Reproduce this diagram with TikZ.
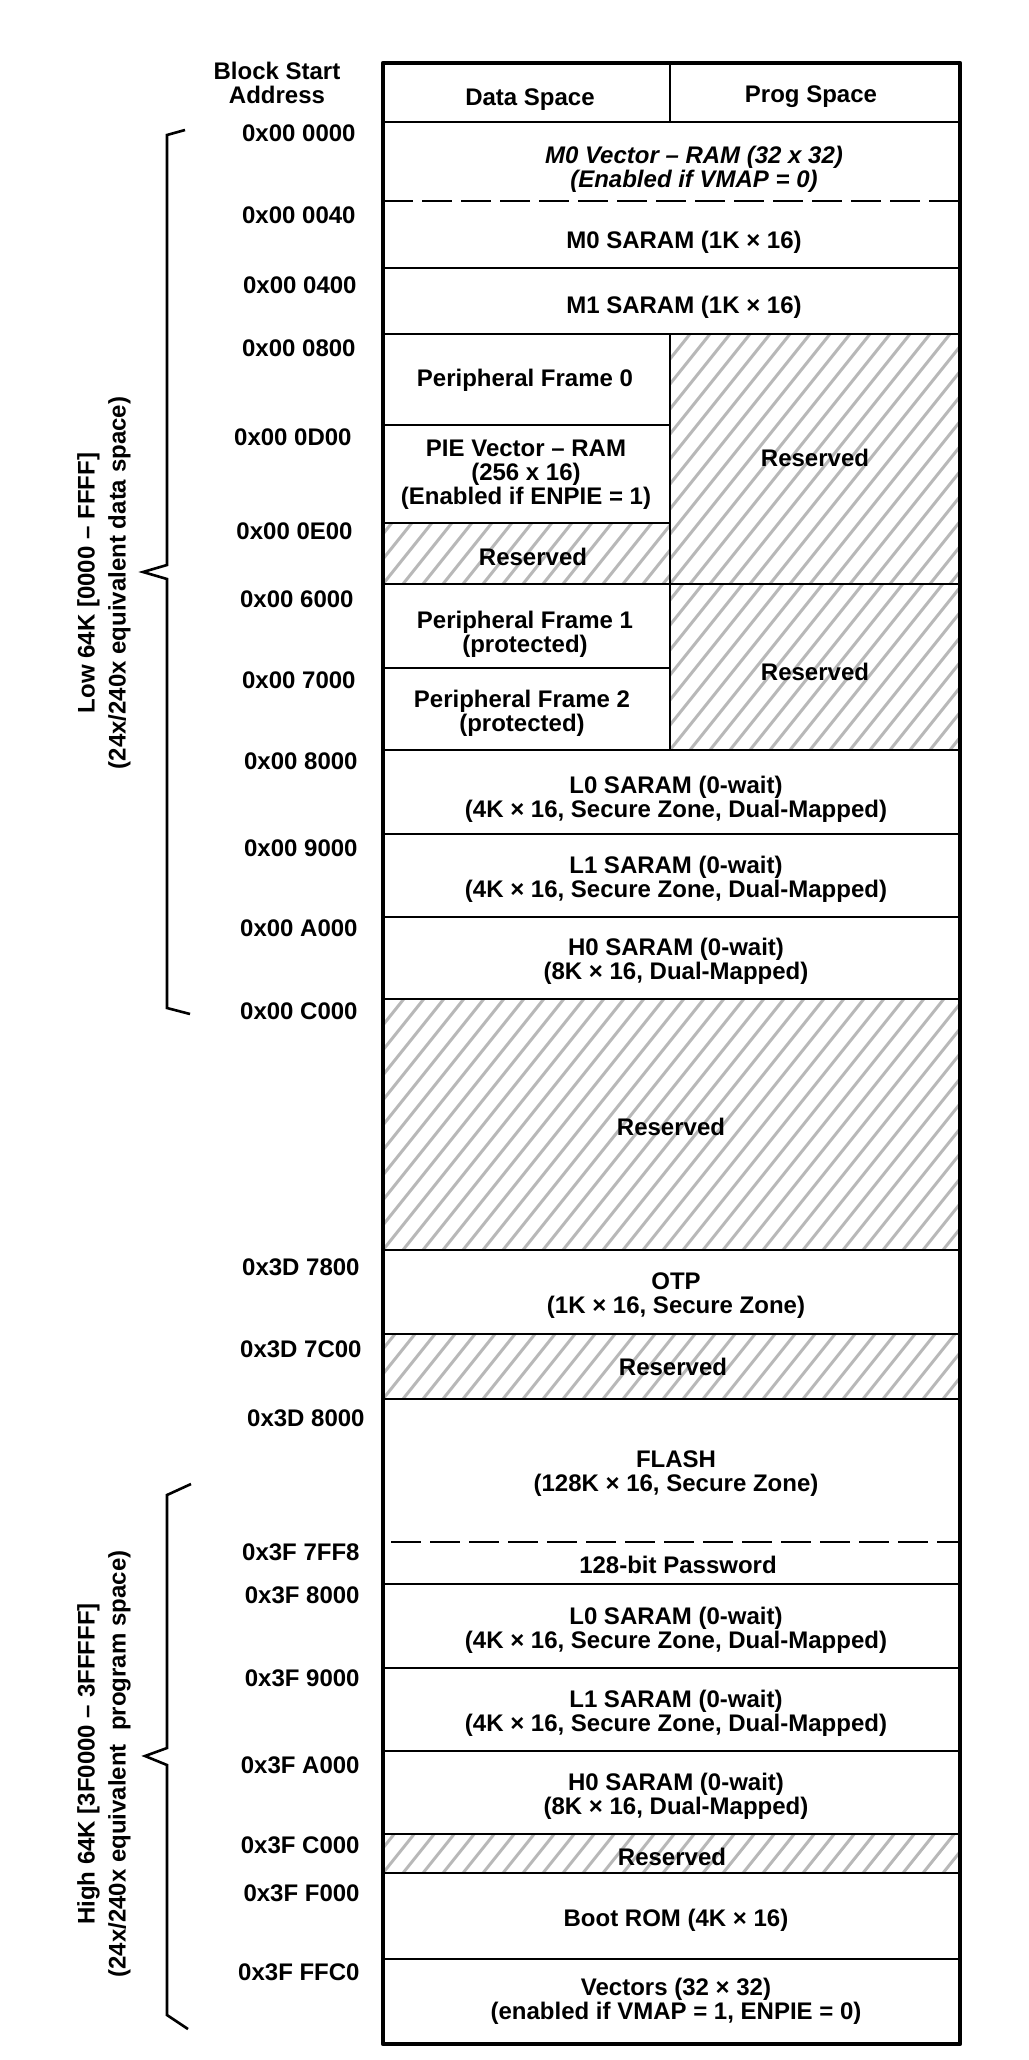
\documentclass[tikz,border=0pt]{standalone}
\usepackage{fontspec}
\setmainfont{Liberation Sans}

\begin{document}
\begin{tikzpicture}[
      x=0.5pt, y=-0.5pt,
      cell/.style={draw, line width=0.65pt},
      resv/.style={cell, path picture={
          \foreach \k in {-40,...,34}
            \draw[black!28, line width=1.5pt]
              ([xshift={\k*10pt}]path picture bounding box.south west) -- ++(240pt,300pt);}},
      frame/.style={draw, line width=2.2pt, line join=round},
      sepline/.style={line width=0.8pt, dash pattern=on 15pt off 4.5pt},
      lbl/.style={font=\fontsize{12}{12}\selectfont\bfseries, align=center},
      addr/.style={font=\fontsize{12}{12}\selectfont\bfseries, anchor=east, inner sep=0pt},
      brace/.style={line width=1.3pt},
      bracetxt/.style={font=\fontsize{12}{15.5}\selectfont\bfseries, align=center, rotate=90}
    ]
    \useasboundingbox (0,0) rectangle (1028,2060);

    % header
    \draw[cell] (383,63) rectangle (670,122);
    \draw[cell] (670,63) rectangle (960,122);
    \node[lbl] (blkhdr) at (277,83) {Block Start\\Address};
    \node[lbl] (datahdr) at (530,100) {Data Space};
    \node[lbl] (proghdr) at (811,97) {Prog Space};

    % low 64K
    \draw[cell] (383,122) rectangle (960,268);
    \draw[sepline] (383,201) -- (960,201);
    \node[lbl, font=\fontsize{12}{12}\selectfont\bfseries\itshape] (m0vec) at (694,169) {M0 Vector – RAM (32 x 32)\\(Enabled if VMAP = 0)};
    \node[lbl] (m0sa) at (684,242) {M0 SARAM (1K × 16)};
    \draw[cell] (383,268) rectangle (960,334);
    \node[lbl] (m1sa) at (684,307) {M1 SARAM (1K × 16)};
    \draw[cell] (383,334) rectangle (670,425);
    \node[lbl] (pf0) at (525,380) {Peripheral Frame 0};
    \draw[cell] (383,425) rectangle (670,523);
    \node[lbl] (pievec) at (526,475) {PIE Vector – RAM\\(256 x 16)\\(Enabled if ENPIE = 1)};
    \draw[resv] (383,523) rectangle (670,584);
    \node[lbl] (rsva) at (533,557) {Reserved};
    \draw[resv] (670,334) rectangle (960,584);
    \node[lbl] (rsvb) at (815,458) {Reserved};
    \draw[cell] (383,584) rectangle (670,668);
    \node[lbl] (pf1) at (525,634) {Peripheral Frame 1\\(protected)};
    \draw[cell] (383,668) rectangle (670,750);
    \node[lbl] (pf2) at (522,713) {Peripheral Frame 2\\(protected)};
    \draw[resv] (670,584) rectangle (960,750);
    \node[lbl] (rsvc) at (815,672) {Reserved};
    \draw[cell] (383,750) rectangle (960,834);
    \node[lbl] (l0lo) at (676,799) {L0 SARAM (0-wait)\\(4K × 16, Secure Zone, Dual-Mapped)};
    \draw[cell] (383,834) rectangle (960,917);
    \node[lbl] (l1lo) at (676,879) {L1 SARAM (0-wait)\\(4K × 16, Secure Zone, Dual-Mapped)};
    \draw[cell] (383,917) rectangle (960,999);
    \node[lbl] (h0lo) at (676,961) {H0 SARAM (0-wait)\\(8K × 16, Dual-Mapped)};

    % middle
    \draw[resv] (383,999) rectangle (960,1250);
    \node[lbl] (rsvd) at (671,1127) {Reserved};
    \draw[cell] (383,1250) rectangle (960,1334);
    \node[lbl] (otp) at (676,1296) {OTP\\(1K × 16, Secure Zone)};
    \draw[resv] (383,1334) rectangle (960,1399);
    \node[lbl] (rsve) at (673,1367) {Reserved};
    \draw[cell] (383,1399) rectangle (960,1584);
    \draw[sepline] (391,1542) -- (960,1542);
    \node[lbl] (flash) at (676,1474) {FLASH\\(128K × 16, Secure Zone)};
    \node[lbl] (pwd) at (678,1565) {128-bit Password};

    % high 64K
    \draw[cell] (383,1584) rectangle (960,1668);
    \node[lbl] (l0hi) at (676,1630) {L0 SARAM (0-wait)\\(4K × 16, Secure Zone, Dual-Mapped)};
    \draw[cell] (383,1668) rectangle (960,1751);
    \node[lbl] (l1hi) at (676,1713) {L1 SARAM (0-wait)\\(4K × 16, Secure Zone, Dual-Mapped)};
    \draw[cell] (383,1751) rectangle (960,1834);
    \node[lbl] (h0hi) at (676,1796) {H0 SARAM (0-wait)\\(8K × 16, Dual-Mapped)};
    \draw[resv] (383,1834) rectangle (960,1873);
    \node[lbl] (rsvf) at (672,1857) {Reserved};
    \draw[cell] (383,1873) rectangle (960,1959);
    \node[lbl] (boot) at (676,1920) {Boot ROM (4K × 16)};
    \draw[cell] (383,1959) rectangle (960,2044);
    \node[lbl] (vect) at (676,2001) {Vectors (32 × 32)\\(enabled if VMAP = 1, ENPIE = 0)};
    \draw[frame] (383,63) rectangle (960,2044);

    % block start addresses
    \node[addr] (a0000) at (356,133) {0x00 0000};
    \node[addr] (a0040) at (356,215) {0x00 0040};
    \node[addr] (a0400) at (357,285) {0x00 0400};
    \node[addr] (a0800) at (356,348) {0x00 0800};
    \node[addr] (a0d00) at (352,437) {0x00 0D00};
    \node[addr] (a0e00) at (353,531) {0x00 0E00};
    \node[addr] (a6000) at (354,599) {0x00 6000};
    \node[addr] (a7000) at (356,680) {0x00 7000};
    \node[addr] (a8000) at (358,761) {0x00 8000};
    \node[addr] (a9000) at (358,848) {0x00 9000};
    \node[addr] (aa000) at (358,928) {0x00 A000};
    \node[addr] (ac000) at (358,1011) {0x00 C000};
    \node[addr] (b7800) at (360,1267) {0x3D 7800};
    \node[addr] (b7c00) at (362,1349) {0x3D 7C00};
    \node[addr] (b8000) at (365,1418) {0x3D 8000};
    \node[addr] (c7ff8) at (360,1552) {0x3F 7FF8};
    \node[addr] (c8000) at (360,1595) {0x3F 8000};
    \node[addr] (c9000) at (360,1678) {0x3F 9000};
    \node[addr] (ca000) at (360,1765) {0x3F A000};
    \node[addr] (cc000) at (360,1845) {0x3F C000};
    \node[addr] (cf000) at (360,1893) {0x3F F000};
    \node[addr] (cffc0) at (360,1972) {0x3F FFC0};

    % braces
    \draw[brace] (185,130) -- (167,135) -- (167,565) -- (143,572) -- (167,579) -- (167,1008) -- (190,1014);
    \node[bracetxt] (lowtxt) at (104,583) {Low 64K [0000 – FFFF]\\(24x/240x equivalent data space)};
    \draw[brace] (191,1484) -- (167,1495) -- (167,1748) -- (145,1756) -- (167,1765) -- (167,2015) -- (188,2029);
    \node[bracetxt] (hightxt) at (104,1764) {High 64K [3F0000 – 3FFFFF]\\(24x/240x equivalent\ \ program space)};
  \end{tikzpicture}
\end{document}
